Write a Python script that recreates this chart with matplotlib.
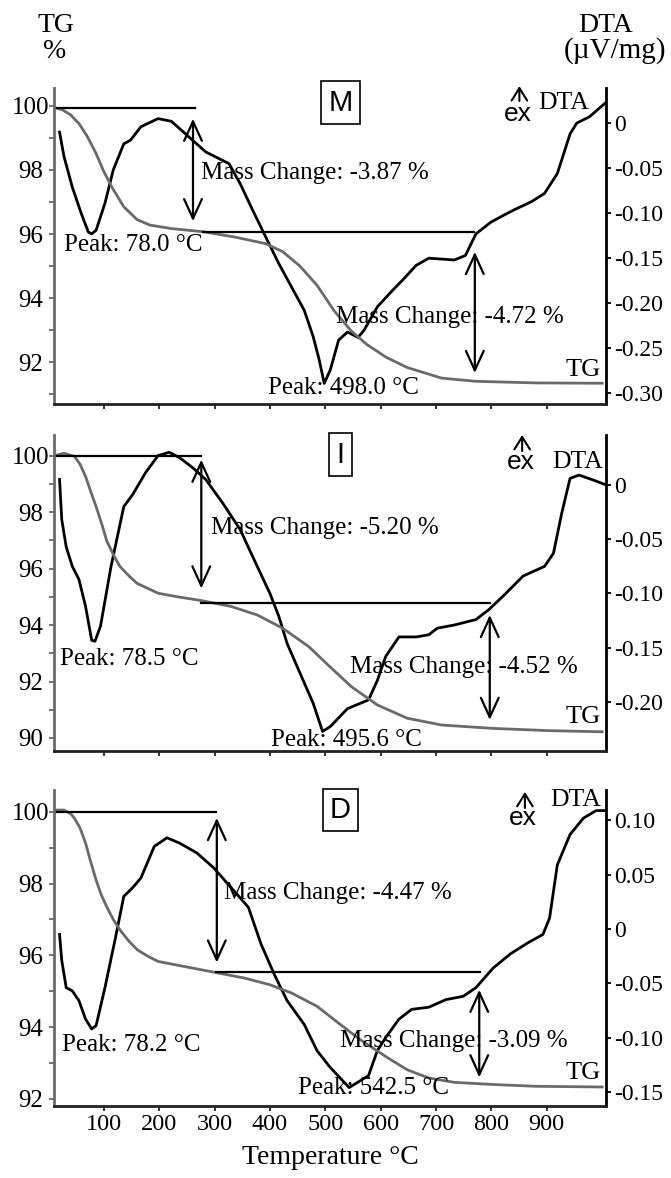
import matplotlib
matplotlib.use("Agg")
import matplotlib.pyplot as plt
from matplotlib.ticker import FixedLocator, MultipleLocator, FixedFormatter

plt.rcParams['font.family'] = ['Liberation Serif', 'DejaVu Serif']
plt.rcParams['axes.unicode_minus'] = False

TG_COLOR = '#6a6a6a'
DTA_COLOR = 'black'

# ---------------- sample M ----------------
m_tg_t = [10, 25, 40, 55, 70, 85, 100, 115, 136, 160, 183, 222, 280, 338, 392,
          423, 454, 485, 516, 547, 575, 610, 648, 710, 772, 880, 1000]
m_tg = [99.95, 99.88, 99.72, 99.45, 99.05, 98.55, 97.95, 97.45, 96.85, 96.45,
        96.28, 96.17, 96.07, 95.9, 95.7, 95.45, 95.0, 94.4, 93.6, 92.97, 92.55,
        92.15, 91.83, 91.5, 91.4, 91.35, 91.34]
m_dta_t = [20, 28, 43, 59, 72, 78, 86, 102, 117, 136, 148, 167, 198, 222, 253,
           284, 326, 346, 369, 392, 416, 439, 462, 478, 489, 498, 509, 524, 540,
           559, 570, 594, 621, 640, 664, 687, 733, 753, 772, 799, 823, 842, 873,
           896, 919, 942, 954, 977, 1005]
m_dta = [-0.010, -0.037, -0.071, -0.100, -0.121, -0.123, -0.119, -0.089, -0.052,
         -0.023, -0.019, -0.004, 0.005, 0.002, -0.015, -0.032, -0.045, -0.067,
         -0.097, -0.126, -0.156, -0.182, -0.208, -0.237, -0.263, -0.289, -0.274,
         -0.241, -0.232, -0.238, -0.230, -0.204, -0.186, -0.174, -0.158, -0.150,
         -0.152, -0.147, -0.123, -0.110, -0.102, -0.096, -0.087, -0.078, -0.056,
         -0.012, 0.000, 0.007, 0.022]
m_start = 99.93
m_changes = [-3.87, -4.72]
m_peaks = [78.0, 498.0]

# ---------------- sample I ----------------
i_tg_t = [10, 28, 47, 57, 67, 76, 86, 96, 105, 117, 129, 145, 160, 198, 237,
          276, 330, 377, 423, 470, 508, 547, 594, 648, 710, 803, 904, 1000]
i_tg = [100.0, 100.09, 99.98, 99.7, 99.27, 98.75, 98.2, 97.6, 97.0, 96.5,
        96.08, 95.75, 95.48, 95.13, 94.99, 94.87, 94.66, 94.36, 93.89, 93.24,
        92.53, 91.82, 91.17, 90.7, 90.46, 90.34, 90.26, 90.22]
i_dta_t = [20, 24, 32, 43, 55, 67, 78, 84, 94, 113, 136, 152, 175, 198, 218,
           237, 260, 284, 315, 346, 377, 400, 416, 431, 454, 478, 495, 509, 540,
           578, 594, 609, 633, 664, 687, 702, 733, 772, 795, 826, 857, 896, 912,
           927, 942, 958, 981, 1007]
i_dta = [0.005, -0.032, -0.057, -0.075, -0.087, -0.112, -0.143, -0.144, -0.130,
         -0.075, -0.020, -0.009, 0.011, 0.027, 0.030, 0.025, 0.016, 0.005, -0.017,
         -0.041, -0.075, -0.100, -0.121, -0.146, -0.173, -0.201, -0.227, -0.2225,
         -0.206, -0.198, -0.180, -0.158, -0.140, -0.140, -0.138, -0.132, -0.129,
         -0.124, -0.115, -0.100, -0.084, -0.075, -0.063, -0.026, 0.006, 0.009,
         0.005, 0.000]
i_start = 100.0
i_changes = [-5.20, -4.52]
i_peaks = [78.5, 495.6]

# ---------------- sample D ----------------
d_tg_t = [10, 28, 40, 47, 57, 67, 76, 86, 95, 105, 117, 129, 145, 160, 180, 198,
          245, 299, 353, 400, 439, 485, 524, 563, 609, 648, 687, 733, 803, 880, 1000]
d_tg = [100.05, 100.05, 99.95, 99.82, 99.55, 99.13, 98.62, 98.1, 97.7, 97.36,
        97.0, 96.71, 96.4, 96.16, 95.97, 95.83, 95.69, 95.53, 95.37, 95.18,
        94.95, 94.58, 94.11, 93.65, 93.18, 92.81, 92.58, 92.46, 92.4, 92.35, 92.33]
d_dta_t = [20, 24, 32, 43, 55, 67, 78, 86, 102, 121, 136, 152, 167, 191, 214,
           237, 268, 299, 330, 361, 384, 408, 431, 462, 485, 508, 532, 543, 559,
           578, 594, 609, 633, 656, 687, 718, 749, 772, 803, 834, 865, 893, 905,
           919, 942, 966, 989, 1007]
d_dta = [-0.005, -0.029, -0.054, -0.057, -0.066, -0.083, -0.092, -0.089, -0.054,
         -0.008, 0.030, 0.038, 0.047, 0.076, 0.084, 0.079, 0.070, 0.056, 0.038,
         0.020, -0.014, -0.042, -0.066, -0.088, -0.112, -0.127, -0.140, -0.146,
         -0.141, -0.135, -0.112, -0.100, -0.083, -0.074, -0.072, -0.065, -0.062,
         -0.054, -0.036, -0.023, -0.013, -0.005, 0.010, 0.059, 0.087, 0.102,
         0.109, 0.109]
d_start = 100.0
d_changes = [-4.47, -3.09]
d_peaks = [78.2, 542.5]

sample_names = ['M', 'I', 'D']
x_ticks = [100, 200, 300, 400, 500, 600, 700, 800, 900]

# layout of each panel: axes limits, ticks, annotation placement
panels = [
    dict(name=sample_names[0], tg_t=m_tg_t, tg=m_tg, dta_t=m_dta_t, dta=m_dta,
         start=m_start, changes=m_changes, peaks=m_peaks,
         bottom=0.6570, ylim=(90.69, 100.56), yticks=[92, 94, 96, 98, 100],
         y2lim=(-0.312, 0.039), y2ticks=[0, -0.05, -0.10, -0.15, -0.20, -0.25, -0.30],
         line1_end=265, arrow1_x=261, arrow1=(99.6, 96.4),
         line2=(279, 769), arrow2_x=770, arrow2=(95.44, 91.66),
         mc_pos=[(275, 97.9), (519, 93.4)], pk_pos=[(28, 95.65), (396, 91.2)],
         tg_lab=91.75, box_y=0.954, dta_lab=(0.877, 0.953),
         ex_x=0.843, ex_arrow=(0.959, 1.006), ex_y=0.918),
    dict(name=sample_names[1], tg_t=i_tg_t, tg=i_tg, dta_t=i_dta_t, dta=i_dta,
         start=i_start, changes=i_changes, peaks=i_peaks,
         bottom=0.3625, ylim=(89.54, 100.74), yticks=[90, 92, 94, 96, 98, 100],
         y2lim=(-0.245, 0.046), y2ticks=[0, -0.05, -0.10, -0.15, -0.20],
         line1_end=276, arrow1_x=276, arrow1=(99.86, 95.3),
         line2=(276, 797), arrow2_x=797, arrow2=(94.36, 90.64),
         mc_pos=[(293, 97.45), (545, 92.5)], pk_pos=[(21, 92.8), (402, 89.93)],
         tg_lab=90.74, box_y=0.938, dta_lab=(0.902, 0.915),
         ex_x=0.848, ex_arrow=(0.949, 1.0), ex_y=0.915),
    dict(name=sample_names[2], tg_t=d_tg_t, tg=d_tg, dta_t=d_dta_t, dta=d_dta,
         start=d_start, changes=d_changes, peaks=d_peaks,
         bottom=0.0611, ylim=(91.8, 100.61), yticks=[92, 94, 96, 98, 100],
         y2lim=(-0.163, 0.128), y2ticks=[0.10, 0.05, 0, -0.05, -0.10, -0.15],
         line1_end=303, arrow1_x=304, arrow1=(99.83, 95.8),
         line2=(303, 779), arrow2_x=778, arrow2=(95.04, 92.6),
         mc_pos=[(317, 97.74), (527, 93.6)], pk_pos=[(24.5, 93.5), (451, 92.3)],
         tg_lab=92.73, box_y=0.937, dta_lab=(0.899, 0.968),
         ex_x=0.853, ex_arrow=(0.943, 0.994), ex_y=0.911),
]

fig = plt.figure(figsize=(6.71, 11.78), dpi=100)
XLIM = (10, 1007)
FS = 18

for i, p in enumerate(panels):
    ax = fig.add_axes([0.0805, p['bottom'], 0.8227, 0.2683])
    ax2 = ax.twinx()
    ax.set_zorder(ax2.get_zorder() + 1)
    ax.patch.set_visible(False)

    ax.plot(p['tg_t'], p['tg'], color=TG_COLOR, lw=2.0, solid_joinstyle='round')
    ax2.plot(p['dta_t'], p['dta'], color=DTA_COLOR, lw=2.0, solid_joinstyle='round')

    ax.set_xlim(*XLIM)
    ax.set_ylim(*p['ylim'])
    ax2.set_ylim(*p['y2lim'])

    # spines
    for a in (ax, ax2):
        a.spines['top'].set_visible(False)
    ax.spines['right'].set_visible(False)
    ax.spines['left'].set_color(TG_COLOR)
    ax.spines['left'].set_linewidth(2.0)
    ax.spines['bottom'].set_color('#222222')
    ax.spines['bottom'].set_linewidth(2.0)
    ax2.spines['left'].set_visible(False)
    ax2.spines['bottom'].set_visible(False)
    ax2.spines['right'].set_color(DTA_COLOR)
    ax2.spines['right'].set_linewidth(2.0)

    # left (TG) axis
    ax.yaxis.set_major_locator(FixedLocator(p['yticks']))
    ax.yaxis.set_minor_locator(MultipleLocator(1))
    ax.tick_params(axis='y', which='both', direction='out', length=3.5,
                   width=1.3, color=TG_COLOR, labelsize=FS, pad=13)
    for lab in ax.get_yticklabels():
        lab.set_horizontalalignment('center')

    # right (DTA) axis
    ax2.yaxis.set_major_locator(FixedLocator(p['y2ticks']))
    ax2.yaxis.set_major_formatter(FixedFormatter(
        ['0' if abs(v) < 1e-9 else '%.2f' % v for v in p['y2ticks']]))
    ax2.tick_params(axis='y', direction='out', length=3.5, width=1.3,
                    color=DTA_COLOR, labelsize=17, pad=2.5)

    # temperature axis
    ax.xaxis.set_major_locator(FixedLocator(x_ticks))
    ax.tick_params(axis='x', direction='out', length=3.5, width=1.3,
                   color='#222222', labelsize=17.5, pad=2.5)
    if i < 2:
        ax.tick_params(axis='x', labelbottom=False)
    else:
        ax.set_xlabel('Temperature °C', fontsize=20, labelpad=7)

    # mass change construction lines
    lvl1 = p['start']
    lvl2 = lvl1 + p['changes'][0]
    ax.plot([XLIM[0], p['line1_end']], [lvl1, lvl1], color='black', lw=1.6)
    ax.plot(list(p['line2']), [lvl2, lvl2], color='black', lw=1.6)
    arr = dict(arrowstyle='<->,head_length=0.7,head_width=0.32', color='black',
               lw=1.6, shrinkA=0, shrinkB=0, mutation_scale=20)
    ax.annotate('', xy=(p['arrow1_x'], p['arrow1'][1]),
                xytext=(p['arrow1_x'], p['arrow1'][0]), arrowprops=arr)
    ax.annotate('', xy=(p['arrow2_x'], p['arrow2'][1]),
                xytext=(p['arrow2_x'], p['arrow2'][0]), arrowprops=arr)

    for (tx, ty), ch in zip(p['mc_pos'], p['changes']):
        ax.text(tx, ty, 'Mass Change: %.2f %%' % ch, fontsize=FS,
                ha='left', va='center')
    for (tx, ty), pk in zip(p['pk_pos'], p['peaks']):
        ax.text(tx, ty, 'Peak: %.1f °C' % pk, fontsize=FS,
                ha='left', va='center')

    # curve labels
    ax.text(998, p['tg_lab'], 'TG', fontsize=FS + 1, ha='right', va='center')
    ax.text(p['dta_lab'][0], p['dta_lab'][1], 'DTA', fontsize=FS + 0.5,
            ha='left', va='center', transform=ax.transAxes)

    # exothermic direction marker
    ax.annotate('', xy=(p['ex_x'], p['ex_arrow'][1]),
                xytext=(p['ex_x'], p['ex_arrow'][0]),
                xycoords='axes fraction', textcoords='axes fraction',
                arrowprops=dict(arrowstyle='->,head_length=0.45,head_width=0.28',
                                color='black', lw=1.5, shrinkA=0, shrinkB=0,
                                mutation_scale=20),
                annotation_clip=False)
    ax.text(p['ex_x'] - 0.003, p['ex_y'], 'ex', fontsize=19,
            family=['Liberation Sans', 'DejaVu Sans'], ha='center', va='center',
            transform=ax.transAxes)

    # sample tag
    ax.text(0.519, p['box_y'], p['name'], fontsize=21,
            family=['Liberation Sans', 'DejaVu Sans'], ha='center', va='center',
            transform=ax.transAxes,
            bbox=dict(boxstyle='square,pad=0.25', fc='white', ec='black', lw=1.2))

# axis titles above the top panel
fig.text(56 / 671, 1 - 26 / 1178, 'TG', fontsize=20, ha='center', va='center')
fig.text(55 / 671, 1 - 51 / 1178, '%', fontsize=20, ha='center', va='center')
fig.text(606 / 671, 1 - 26 / 1178, 'DTA', fontsize=20, ha='center', va='center')
fig.text(615 / 671, 1 - 51 / 1178, '(µV/mg)', fontsize=21, ha='center', va='center')

fig.savefig('out.png', dpi=100)
